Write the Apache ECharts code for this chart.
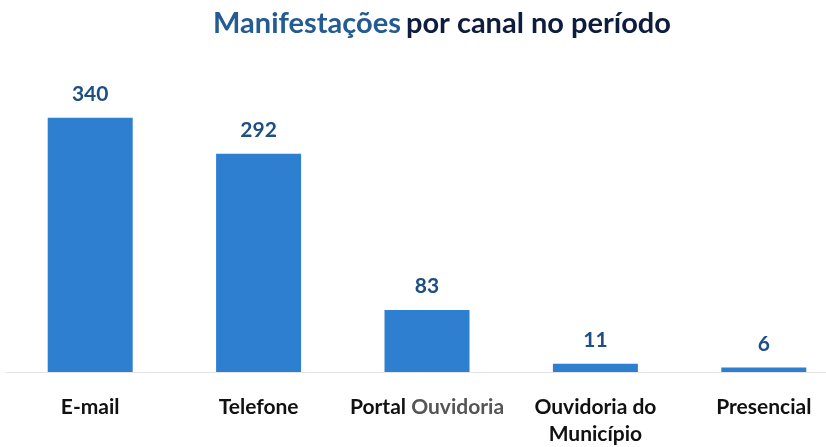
<!DOCTYPE html>
<html>
<head>
<meta charset="utf-8">
<script src="https://cdn.jsdelivr.net/npm/echarts@6/dist/echarts.min.js"></script>
<style>
  html, body { margin: 0; padding: 0; background: #fff; overflow: hidden; }
  #main { width: 826px; height: 447px; }
</style>
</head>
<body>
<div id="main"></div>
<script>
// dados do gráfico
var canais = ['E-mail', 'Telefone', 'Portal Ouvidoria', 'Ouvidoria do\nMunicípio', 'Presencial'];
var valores = [340, 292, 83, 11, 6];
var titulo = ['Manifestações', 'por canal no período'];

var chart = echarts.init(document.getElementById('main'));

var option = {
    backgroundColor: '#fff',
    title: {
        text: '{a|' + titulo[0] + '} {b|' + titulo[1] + '}',
        left: 437,
        textAlign: 'center',
        top: 4,
        textStyle: {
            rich: {
                a: { fontFamily: 'Lato', fontWeight: 'bold', fontSize: 29, color: '#245b92' },
                b: { fontFamily: 'Lato', fontWeight: 'bold', fontSize: 29, color: '#0e1d3d' }
            }
        }
    },
    grid: {
        left: 6,
        width: 842,
        top: 73,
        bottom: 75,
        outerBoundsMode: 'none'
    },
    xAxis: {
        type: 'category',
        data: canais,
        axisTick: { show: false },
        axisLine: { lineStyle: { color: '#e4e4e4', width: 1 } },
        axisLabel: {
            interval: 0,
            margin: 22,
            lineHeight: 27,
            fontFamily: 'Lato',
            fontWeight: 'bold',
            fontSize: 21,
            color: '#111',
            formatter: function (v) {
                if (v === 'Portal Ouvidoria') return '{p|Portal} {g|Ouvidoria}';
                return v;
            },
            rich: {
                p: { fontFamily: 'Lato', fontWeight: 'bold', fontSize: 21, color: '#111' },
                g: { fontFamily: 'Lato', fontWeight: 'bold', fontSize: 21, color: '#555' }
            }
        }
    },
    yAxis: {
        type: 'value',
        min: 0,
        max: 400,
        show: false,
        splitLine: { show: false }
    },
    series: [{
        type: 'bar',
        data: valores,
        barWidth: 85,
        itemStyle: { color: '#2f7fd0' },
        label: {
            show: true,
            position: 'top',
            distance: 13,
            fontFamily: 'Lato',
            fontWeight: 'bold',
            fontSize: 21,
            color: '#1d4f82'
        }
    }]
};

chart.setOption(option);
</script>
</body>
</html>
